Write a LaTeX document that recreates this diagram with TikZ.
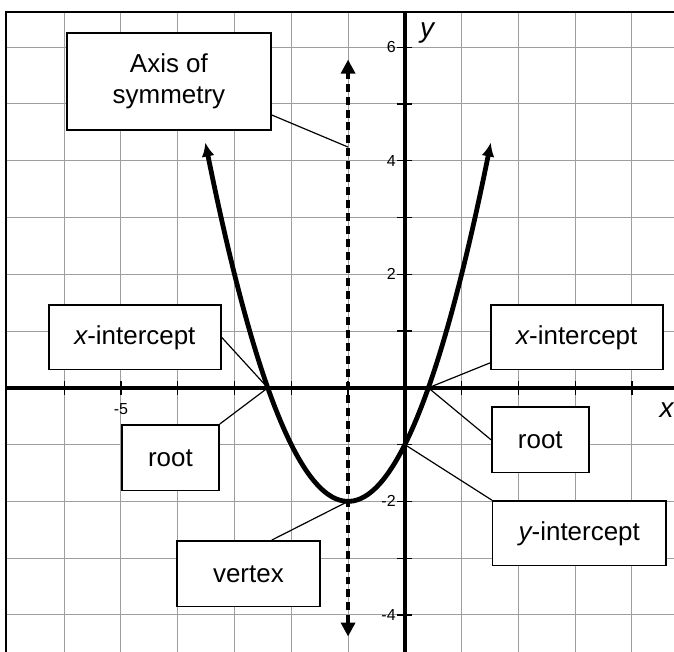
\documentclass[tikz,border=0pt]{standalone}
\usepackage{fontspec}
\setmainfont{Liberation Sans}
\usetikzlibrary{arrows.meta}

\begin{document}
\begin{tikzpicture}[
    gridline/.style={draw=black!38, line width=0.5pt},
    axis/.style={line width=2.2pt},
    tick/.style={line width=0.6pt},
    ticklbl/.style={font=\fontsize{8}{9}\selectfont, inner sep=1pt},
    curve/.style={line width=2.4pt, {Latex[length=7pt, width=6.5pt]}-{Latex[length=7pt, width=6.5pt]}},
    symline/.style={line width=1.7pt, dash pattern=on 4pt off 2.5pt,
                    {Triangle[length=7pt, width=7pt]}-{Triangle[length=7pt, width=7pt]}},
    lbl/.style={draw, line width=0.75pt, fill=white, align=center, inner sep=2pt,
                font=\fontsize{13}{15.5}\selectfont},
    link/.style={line width=0.6pt}
]
\useasboundingbox (-7.13,-4.65) rectangle (4.74,6.83);

% grid and frame
\foreach \x in {-6,...,4} \draw[gridline] (\x,-4.65) -- (\x,6.62);
\foreach \y in {-4,...,6} \draw[gridline] (-7.02,\y) -- (4.74,\y);
\draw[line width=1pt] (-7.02,-4.65) -- (-7.02,6.62) -- (4.74,6.62);

% axes
\draw[axis] (-7.02,0) -- (4.74,0);
\draw[axis] (0,-4.65) -- (0,6.62);
\foreach \x in {-6,...,4} \draw[tick] (\x,-0.12) -- (\x,0.12);
\foreach \y in {-4,...,6} \draw[tick] (-0.13,\y) -- (0.13,\y);
\foreach \y in {-4,-2,2,4,6} \node[ticklbl, anchor=east] (ty\y) at (-0.12,\y) {\y};
\node[ticklbl] (tx5) at (-5,-0.37) {-5};
\node[font=\fontsize{14}{16}\selectfont\itshape] (ylab) at (0.39,6.25) {y};
\node[font=\fontsize{14}{16}\selectfont\itshape] (xlab) at (4.61,-0.39) {x};

% points on the curve
\coordinate (symPt) at (-1,4.24);
\coordinate (rootL) at (-2.414,0);
\coordinate (rootR) at (0.414,0);
\coordinate (yint)  at (0,-1);
\coordinate (vtx)   at (-1,-2);

% axis of symmetry and parabola
\draw[symline] (-1,-4.38) -- (-1,5.78);
\draw[curve] plot[domain=-3.514:1.514, samples=80, smooth] (\x,{(\x+1)^2-2});

% labels
\node[lbl, minimum width=3.59cm, minimum height=1.71cm] (symBox)   at (-4.155,5.396) {Axis of\\symmetry};
\node[lbl, minimum width=3.03cm, minimum height=1.14cm] (xintL)    at (-4.754,0.889) {{\itshape x}-intercept};
\node[lbl, minimum width=1.71cm, minimum height=1.16cm] (rootLbox) at (-4.129,-1.232) {root};
\node[lbl, minimum width=3.03cm, minimum height=1.14cm] (xintR)    at (3.028,0.889) {{\itshape x}-intercept};
\node[lbl, minimum width=1.71cm, minimum height=1.16cm] (rootRbox) at (2.386,-0.915) {root};
\node[lbl, minimum width=3.05cm, minimum height=1.14cm] (yintBox)  at (3.072,-2.562) {{\itshape y}-intercept};
\node[lbl, minimum width=2.52cm, minimum height=1.16cm] (vertBox)  at (-2.755,-3.275) {vertex};

\draw[link] ([yshift=-0.59cm]symBox.east) -- (symPt);
\draw[link] (xintL.east) -- (rootL);
\draw[link] (rootLbox.north east) -- (rootL);
\draw[link] ([yshift=-0.45cm]xintR.west) -- (rootR);
\draw[link] (rootRbox.west) -- (rootR);
\draw[link] (yintBox.north west) -- (yint);
\draw[link] ([xshift=0.41cm]vertBox.north) -- (vtx);
\end{tikzpicture}
\end{document}
